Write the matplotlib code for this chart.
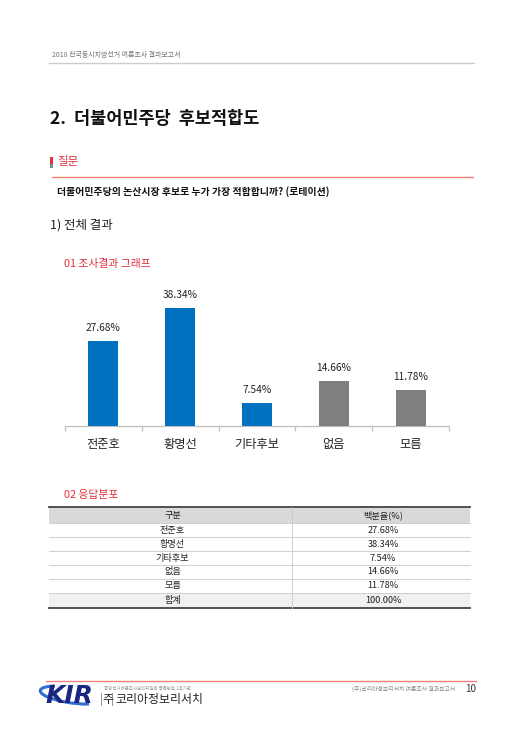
import matplotlib
matplotlib.use("Agg")
import matplotlib.pyplot as plt
from matplotlib.patches import Rectangle, Arc

plt.rcParams['font.family'] = ['Noto Sans CJK KR', 'DejaVu Sans']

categories = ['전준호', '황명선', '기타후보', '없음', '모름']
values = [27.68, 38.34, 7.54, 14.66, 11.78]
bar_colors = ['#0070C0', '#0070C0', '#0070C0', '#7F7F7F', '#7F7F7F']
table_header = ['구분', '백분율(%)']
table_total_label = '합계'
table_total_value = '100.00%'

W, H = 523, 740
fig = plt.figure(figsize=(W / 100, H / 100), dpi=100)
fig.patch.set_facecolor('white')

# page overlay in pixel coordinates
pg = fig.add_axes([0, 0, 1, 1])
pg.set_xlim(0, W)
pg.set_ylim(H, 0)
pg.axis('off')

RED = '#E0303A'

# header
pg.text(52, 55.5, '2018 전국동시지방선거 여론조사 결과보고서', fontsize=5.0, color='#777777', va='center')
pg.plot([49, 474], [63, 63], color='#cccccc', lw=1)

# title
pg.text(50, 119, '2.  더불어민주당  후보적합도', fontsize=12.6, fontweight='bold', color='#111111', va='center')

# 질문
pg.add_patch(Rectangle((50, 157), 2.6, 11, color=RED, lw=0))
pg.add_patch(Rectangle((50, 164), 2.6, 4, color='#7f8c8d', lw=0))
pg.text(57, 162, '질문', fontsize=8.3, color=RED, va='center')
pg.plot([52, 473], [177, 177], color='#F08070', lw=1)
pg.text(57, 192, '더불어민주당의 논산시장 후보로 누가 가장 적합합니까? (로테이션)', fontsize=7.1,
        fontweight='bold', color='#111111', va='center')

pg.text(50, 225, '1) 전체 결과', fontsize=9.0, color='#222222', va='center')
pg.text(64, 264, '01 조사결과 그래프', fontsize=7.8, color=RED, va='center')

# chart
ppu = 3.063
ymax = 45
base_y = 425.7
ax_h = ymax * ppu
ax = fig.add_axes([65 / W, 1 - base_y / H, (449 - 65) / W, ax_h / H])
x = list(range(len(categories)))
bars = ax.bar(x, values, width=0.39, color=bar_colors, zorder=3)
for xi, v in zip(x, values):
    ax.text(xi, v + 2.6, f'{v:.2f}%', ha='center', va='bottom', fontsize=7.3, color='#222222')
ax.set_xlim(-0.5, len(categories) - 0.5)
ax.set_ylim(0, ymax)
for s in ['top', 'right', 'left']:
    ax.spines[s].set_visible(False)
ax.spines['bottom'].set_color('#bfbfbf')
ax.spines['bottom'].set_linewidth(0.9)
ax.set_yticks([])
ax.set_xticks(x)
ax.set_xticklabels(categories, fontsize=8.8, color='#222222')
ax.tick_params(axis='x', which='major', length=0, pad=9)
ax.set_xticks([i - 0.5 for i in range(len(categories) + 1)], minor=True)
ax.tick_params(axis='x', which='minor', length=3.5, color='#bfbfbf', width=0.9)
ax.patch.set_alpha(0)

# table
pg.text(64, 495, '02 응답분포', fontsize=7.8, color=RED, va='center')
tx0, tx1, tmid = 49, 470, 292
row_edges = [507, 523.3, 537.3, 551.2, 565.0, 578.8, 592.7, 608.3]
pg.add_patch(Rectangle((tx0, row_edges[0]), tx1 - tx0, row_edges[1] - row_edges[0], color='#D9D9D9', lw=0))
pg.add_patch(Rectangle((tx0, row_edges[-2]), tx1 - tx0, row_edges[-1] - row_edges[-2], color='#F0F0F0', lw=0))
for ye in row_edges[1:-1]:
    pg.plot([tx0, tx1], [ye, ye], color='#c8c8c8', lw=0.6)
pg.plot([tx0, tx1], [row_edges[0], row_edges[0]], color='#444444', lw=1.3)
pg.plot([tx0, tx1], [row_edges[-1], row_edges[-1]], color='#444444', lw=1.3)
pg.plot([tmid, tmid], [row_edges[0], row_edges[-1]], color='#c8c8c8', lw=0.6)
cx1, cx2 = (tx0 + tmid) / 2 + 2, (tmid + tx1) / 2 + 2
labels_col = [table_header[0]] + categories + [table_total_label]
values_col = [table_header[1]] + [f'{v:.2f}%' for v in values] + [table_total_value]
for i in range(len(labels_col)):
    yc = (row_edges[i] + row_edges[i + 1]) / 2
    pg.text(cx1, yc, labels_col[i], fontsize=6.6, ha='center', va='center', color='#222222')
    pg.text(cx2, yc, values_col[i], fontsize=6.6, ha='center', va='center', color='#222222')

# footer
pg.plot([46, 476], [681, 681], color='#F08080', lw=1)
pg.add_patch(Arc((72, 695), 64, 16, angle=8, theta1=20, theta2=200, color='#2e6fd0', lw=2.2))
pg.text(45, 696, 'KIR', fontsize=18, fontweight='bold', fontstyle='italic', color='#1a2580',
        va='center', family='DejaVu Sans')
pg.text(104, 689, '중앙선거여론조사심의위원회 등록번호 1호기관', fontsize=3.2, color='#999999', va='center')
pg.text(102.5, 699, '주', fontsize=8.6, color='#222222', va='center')
pg.plot([112, 112], [693, 705], color='#888888', lw=0.6)
pg.plot([101, 101], [693, 705], color='#888888', lw=0.6)
pg.text(115, 699, '코리아정보리서치', fontsize=8.6, color='#222222', va='center')
pg.text(455, 689, '(주)코리아정보리서치 여론조사 결과보고서', fontsize=4.2, color='#888888', va='center', ha='right')
pg.text(465, 689, '10', fontsize=7, color='#333333', va='center')

fig.savefig('out.png', dpi=100, facecolor='white')
